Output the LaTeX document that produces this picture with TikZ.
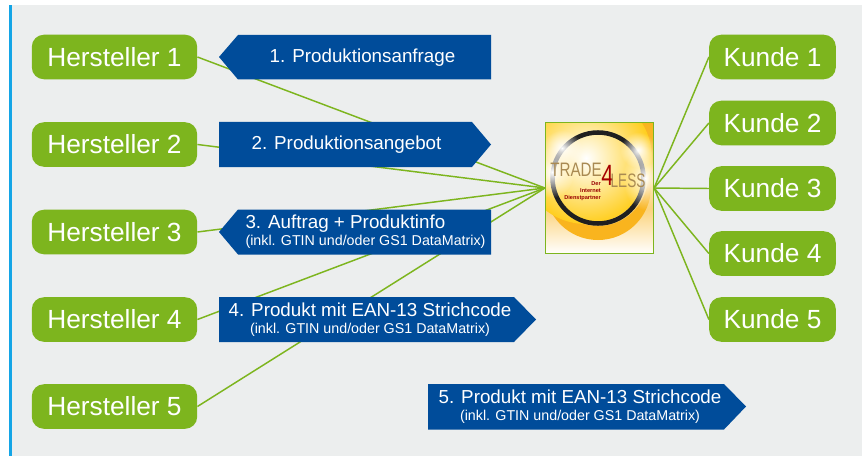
\documentclass[tikz,border=0pt]{standalone}
\usepackage{fontspec}
\usetikzlibrary{fadings}
\setmainfont{Liberation Sans}
\definecolor{panel}{HTML}{ECEEEE}
\definecolor{stripe}{HTML}{14A5E6}
\definecolor{leaf}{HTML}{7DB51E}
\definecolor{navy}{HTML}{004C9A}
\definecolor{amber}{HTML}{F9B41E}
\definecolor{sun}{HTML}{FFCE1E}
\definecolor{logotext}{HTML}{A98A52}
\newcommand{\subline}[1]{{\fontsize{10.7}{12.5}\selectfont #1}}
\tikzfading[name=softglow,inner color=transparent!0,outer color=transparent!100]
\tikzset{
  px/.style={x=0.75pt,y=-0.75pt},
  party/.style={fill=leaf,rounded corners=9pt,text=white,font=\fontsize{19.7}{22}\selectfont,inner sep=0pt,minimum height=33.4pt,anchor=center},
  link/.style={draw=leaf,line width=1.1pt},
  flag/.style={fill=navy},
  flagtext/.style={text=white,font=\fontsize{14.1}{15}\selectfont,inner sep=0pt,align=center,anchor=center},
  glow/.style={fill=white,path fading=softglow,fit fading=true},
}
\begin{document}
\begin{tikzpicture}[px]
\useasboundingbox (0,0) rectangle (862,456);
\fill[white] (0,0) rectangle (862,456);
\fill[panel] (9,5) rectangle (862,456);
\fill[stripe] (9,5) rectangle (11.5,456);

% parties
\node[party,minimum width=124pt] (h1) at (114.5,57) {Hersteller 1};
\node[party,minimum width=124pt] (h2) at (114.5,144.5) {Hersteller 2};
\node[party,minimum width=124pt] (h3) at (114.5,232) {Hersteller 3};
\node[party,minimum width=124pt] (h4) at (114.5,319.5) {Hersteller 4};
\node[party,minimum width=124pt] (h5) at (114.5,406.5) {Hersteller 5};
\node[party,minimum width=95pt] (k1) at (772.5,57) {Kunde 1};
\node[party,minimum width=95pt] (k2) at (772.5,123) {Kunde 2};
\node[party,minimum width=95pt] (k3) at (772.5,188.5) {Kunde 3};
\node[party,minimum width=95pt] (k4) at (772.5,253.5) {Kunde 4};
\node[party,minimum width=95pt] (k5) at (772.5,319.5) {Kunde 5};

% logo
\begin{scope}
\clip (545.5,122.5) rectangle (653.5,253.5);
\shade[top color=amber,bottom color=white,middle color=amber!85!white] (545,122) rectangle (654,254);
\fill[amber] (598,187) circle [radius=53];
\fill[white,opacity=.35] (598,176) circle [radius=50];
\shade[inner color=white,outer color=sun] (586,158) circle [radius=66];
\draw[black!88,line width=3.4pt] (598,178) circle [radius=45.5];
\fill[glow] (552,172) ellipse [x radius=22,y radius=26];
\fill[glow] (645,178) ellipse [x radius=22,y radius=32];
\fill[glow] (562,148) ellipse [x radius=20,y radius=18];
\fill[glow] (638,150) ellipse [x radius=18,y radius=18];
\end{scope}
\node[draw=leaf,line width=0.9pt,minimum width=81pt,minimum height=98.5pt,inner sep=0pt] (logo) at (599.5,188) {};
\node[text=red!65!black,font=\fontsize{22}{24}\selectfont,inner sep=0pt,xscale=.75] (four) at (607.5,175.5) {4};
\node[text=logotext,font=\fontsize{14.6}{16}\selectfont,inner sep=0pt,xscale=.78] (tr) at (576,169.5) {TRADE};
\node[text=logotext,font=\fontsize{14.6}{16}\selectfont,inner sep=0pt,xscale=.7] (ls) at (628,181) {LESS};
\node[text=red!60!black,font=\bfseries\fontsize{4.2}{5}\selectfont,inner sep=0pt,align=right,anchor=east] (tag) at (601,191) {Der\\Internet\\Dienstpartner};

% links
\foreach \n in {h1,h2,h3,h4,h5} \draw[link] (\n.east) -- (logo.west);
\foreach \n in {k1,k2,k3,k4,k5} \draw[link] (logo.east) -- (\n.west);

% flags
\fill[flag] (219,57) -- (238,35) -- (491,35) -- (491,79.5) -- (238,79.5) -- cycle;
\fill[flag] (219,122) -- (472,122) -- (491,144.5) -- (472,167) -- (219,167) -- cycle;
\fill[flag] (219,232) -- (238,209.5) -- (491,209.5) -- (491,254.5) -- (238,254.5) -- cycle;
\fill[flag] (219,297) -- (514,297) -- (536,319.5) -- (514,342) -- (219,342) -- cycle;
\fill[flag] (428,384) -- (724,384) -- (746,406.5) -- (724,429.5) -- (428,429.5) -- cycle;

\node[flagtext] (f1) at (362.5,58) {1. Produktionsanfrage};
\node[flagtext] (f2) at (346.5,145) {2. Produktionsangebot};
\node[flagtext,align=left] (f3) at (365.5,231.5) {3. Auftrag + Produktinfo\\[-2pt]\subline{(inkl. GTIN und/oder GS1 DataMatrix)}};
\node[flagtext] (f4) at (370,319.5) {4. Produkt mit EAN-13 Strichcode\\[-2pt]\subline{(inkl. GTIN und/oder GS1 DataMatrix)}};
\node[flagtext] (f5) at (580,406.5) {5. Produkt mit EAN-13 Strichcode\\[-2pt]\subline{(inkl. GTIN und/oder GS1 DataMatrix)}};
\end{tikzpicture}
\end{document}
